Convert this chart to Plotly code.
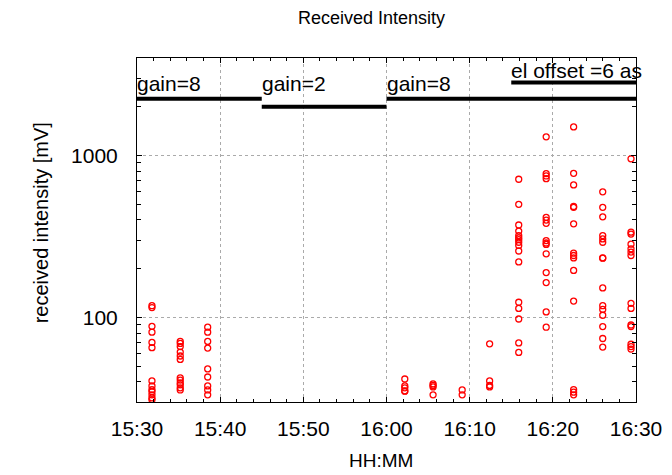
import numpy as np
import plotly.graph_objects as go

# Scan times (one column of receiver readings per scan)
scan_times = [
    "15:31:48", "15:35:12", "15:38:30", "16:02:12", "16:05:36", "16:09:06",
    "16:12:24", "16:15:54", "16:19:12", "16:22:30", "16:26:00", "16:29:24",
]

# Received intensity readings [mV] for each scan
scan_values = [
    [118, 115, 88, 81, 70, 65, 40.5, 37.7, 35.7, 34.7, 33.2, 31.8, 31],
    [71, 69, 66, 61, 57.7, 55, 42.3, 41, 39.3, 38.3, 36.7, 35.6],
    [87, 81, 71, 64.6, 48, 42.8, 37.7, 35.6, 33.2],
    [41.6, 37.7, 36.7, 35.1, 35],
    [38.8, 38, 37.2, 33.2],
    [35.6, 33.2],
    [68.6, 40.5, 38, 37.2],
    [713, 499, 372, 341, 320, 310, 302, 291, 278, 257, 220, 124, 113.5, 97.7, 69.5, 60.7],
    [1303, 773, 747, 719, 415, 399, 381, 298, 288, 282, 247, 189, 164, 108, 86.9],
    [1500, 776, 658, 484, 478, 378, 249, 241, 233, 195, 126, 35.8, 34.5, 33.2],
    [596, 478, 418, 320, 305, 291, 233, 232, 152, 118, 112, 103, 87.7, 74, 65.5],
    [954, 336, 327, 283, 265, 253, 241, 122, 113.5, 89.7, 87.7, 68.2, 66, 63.7],
]

# Receiver settings in effect over time
setting_labels = ["gain=8", "gain=2", "gain=8", "el offset =6 as"]
setting_start = ["15:30", "15:45", "16:00", "16:15"]
setting_end = ["15:45", "16:00", "16:30", "16:30"]
setting_level = [2240, 2000, 2240, 2820]
label_level = [2240, 2240, 2240, 2820]

x_tick_labels = ["15:30", "15:40", "15:50", "16:00", "16:10", "16:20", "16:30"]

day = "2000-01-01 "
xs, ys = [], []
for t, vals in zip(scan_times, scan_values):
    for v in vals:
        xs.append(day + t)
        ys.append(v)

FONT = "Liberation Sans, Arial, sans-serif"

fig = go.Figure()
fig.add_trace(go.Scatter(
    x=xs, y=ys, mode="markers",
    marker=dict(symbol="circle-open", size=6, color="#ff0000",
                line=dict(width=1.3, color="#ff0000")),
    showlegend=False,
))

for s, e, lv in zip(setting_start, setting_end, setting_level):
    fig.add_trace(go.Scatter(
        x=[day + s, day + e], y=[lv, lv], mode="lines",
        line=dict(color="black", width=4),
        showlegend=False, cliponaxis=False, hoverinfo="skip",
    ))

for lab, s, lv in zip(setting_labels, setting_start, label_level):
    fig.add_annotation(
        x=day + s, y=np.log10(lv), xref="x", yref="y",
        text=lab, showarrow=False, xanchor="left", yanchor="bottom",
        xshift=-2, yshift=-1 if lab.startswith("el") else 2,
        font=dict(family=FONT, size=21, color="black"),
    )

# Chart and axis titles, positioned relative to the plot area
fig.add_annotation(
    x=0.469, y=1.116, xref="paper", yref="paper",
    text="Received Intensity", showarrow=False,
    xanchor="center", yanchor="middle",
    font=dict(family=FONT, size=18, color="black"),
)
fig.add_annotation(
    x=0.489, y=-0.169, xref="paper", yref="paper",
    text="HH:MM", showarrow=False,
    xanchor="center", yanchor="middle",
    font=dict(family=FONT, size=19, color="black"),
)
fig.add_annotation(
    x=-0.192, y=0.52, xref="paper", yref="paper",
    text="received intensity [mV]", showarrow=False, textangle=-90,
    xanchor="center", yanchor="middle",
    font=dict(family=FONT, size=20, color="black"),
)

fig.update_layout(
    width=672, height=475,
    margin=dict(l=137, r=36, t=58, b=73),
    paper_bgcolor="white", plot_bgcolor="white",
    font=dict(family=FONT, size=21, color="black"),
)

fig.update_xaxes(
    type="date",
    range=[day + "15:30", day + "16:30"],
    tickvals=[day + t for t in x_tick_labels],
    ticktext=x_tick_labels,
    ticks="inside", ticklen=5, tickcolor="black",
    minor=dict(ticks="inside", ticklen=3, dtick=2 * 60 * 1000, tickcolor="black", showgrid=False),
    showline=True, linecolor="black", linewidth=1, mirror="ticks",
    showgrid=True, gridcolor="#aaaaaa", griddash="dot", gridwidth=1,
    zeroline=False, automargin=False,
    tickfont=dict(family=FONT, size=21),
    ticklabelstandoff=8,
)

fig.update_yaxes(
    type="log",
    range=[np.log10(30), np.log10(4000)],
    tickvals=[100, 1000],
    ticktext=["100", "1000"],
    ticks="inside", ticklen=5, tickcolor="black",
    minor=dict(ticks="inside", ticklen=4, dtick="D1", tickcolor="black", showgrid=False),
    showline=True, linecolor="black", linewidth=1, mirror="ticks",
    showgrid=True, gridcolor="#aaaaaa", griddash="dot", gridwidth=1,
    zeroline=False, automargin=False,
    tickfont=dict(family=FONT, size=21),
    ticklabelstandoff=14,
)

fig.write_html("out.html")
